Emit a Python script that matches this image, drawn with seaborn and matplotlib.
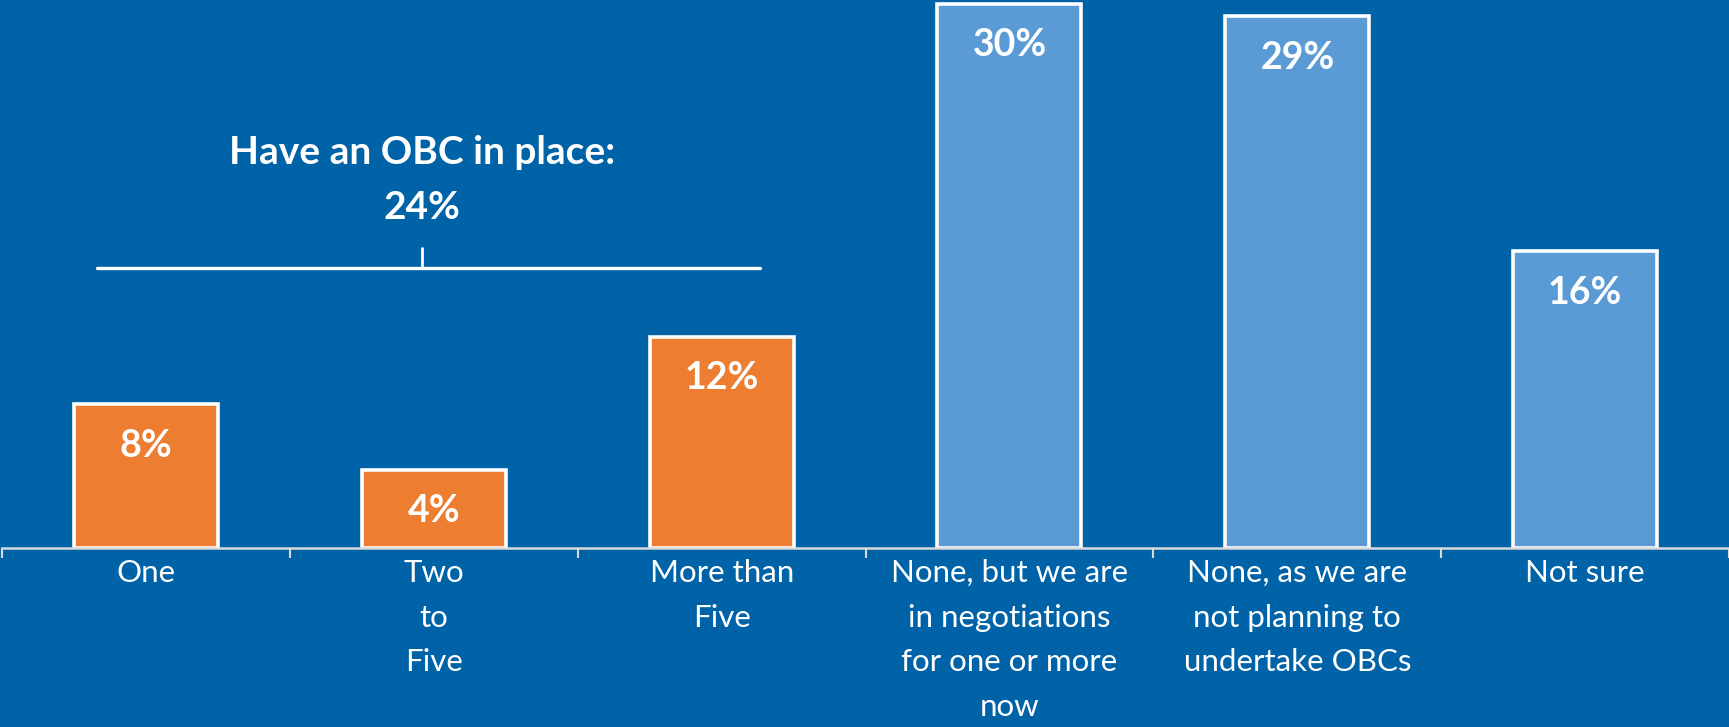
import matplotlib
matplotlib.use("Agg")
import matplotlib.pyplot as plt
import seaborn as sns
import pandas as pd

categories = ["One", "Two\nto\nFive", "More than\nFive",
              "None, but we are\nin negotiations\nfor one or more\nnow",
              "None, as we are\nnot planning to\nundertake OBCs", "Not sure"]
values = [7.9, 4.3, 11.6, 29.9, 29.2, 16.3]
labels = ["8%", "4%", "12%", "30%", "29%", "16%"]
groups = ["Have OBC", "Have OBC", "Have OBC", "No OBC", "No OBC", "No OBC"]
bracket_title = "Have an OBC in place:"
bracket_value = "24%"

BG = "#0063A8"
ORANGE = "#ED7D31"
LIGHTBLUE = "#5B9BD5"

sns.set_theme(style="white")
plt.rcParams['font.family'] = ['Lato', 'DejaVu Sans']

df = pd.DataFrame({"cat": categories, "val": values, "grp": groups})

fig = plt.figure(figsize=(17.29, 7.27), dpi=100, facecolor=BG)
ax = fig.add_axes([0.0012, 179/727, 0.9988, 548/727])
ax.set_facecolor(BG)

sns.barplot(data=df, x="cat", y="val", hue="grp",
            palette={"Have OBC": ORANGE, "No OBC": LIGHTBLUE},
            dodge=False, width=0.5, edgecolor="white", linewidth=2.6,
            legend=False, ax=ax, saturation=1)

ax.set_xlim(-0.5, 5.5)
ax.set_ylim(0, 30.1)

for i, (v, lab) in enumerate(zip(values, labels)):
    ax.annotate(lab, xy=(i, v), xytext=(0, -30), textcoords="offset points",
                ha="center", va="center", color="white", fontsize=27,
                fontweight="bold")

# bracket
ax.plot([-0.17, 2.135], [15.4, 15.4], color="white", lw=2.4, clip_on=False)
ax.plot([0.96, 0.96], [15.5, 16.5], color="white", lw=2.0, clip_on=False)
ax.text(0.96, 21.7, bracket_title, ha="center", va="center", color="white",
        fontsize=28, fontweight="bold")
ax.text(0.96, 18.7, bracket_value, ha="center", va="center", color="white",
        fontsize=28, fontweight="bold")

for s in ["top", "right", "left"]:
    ax.spines[s].set_visible(False)
ax.spines["bottom"].set_color("#D9D9D9")
ax.spines["bottom"].set_linewidth(1.8)
ax.set_yticks([])
ax.set_xlabel("")
ax.set_ylabel("")
ax.set_xticks(range(len(categories)))
ax.set_xticklabels(categories, color="white", fontsize=22.5, linespacing=1.72)
ax.tick_params(axis="x", which="major", length=0, pad=8)
ax.set_xticks([i - 0.5 for i in range(len(categories) + 1)], minor=True)
ax.tick_params(axis="x", which="minor", length=7, width=1.5, color="#D9D9D9",
               direction="out", bottom=True)
for t in ax.get_xticklabels():
    t.set_verticalalignment("top")

fig.savefig("out.png", dpi=100, facecolor=BG)
